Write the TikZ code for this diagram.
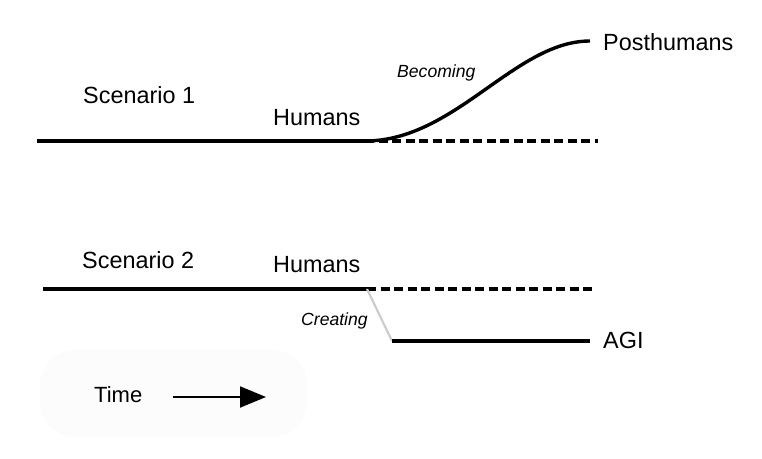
\documentclass[tikz,border=0pt]{standalone}
\usepackage{fontspec}
\setmainfont{Liberation Sans}
\usetikzlibrary{arrows.meta}
\begin{document}
\begin{tikzpicture}[x=1pt,y=-1pt,
  lbl/.style={inner sep=0pt,anchor=base west,font=\fontsize{23.4}{26}\selectfont},
  ital/.style={inner sep=0pt,anchor=base west,font=\fontsize{17.6}{20}\selectfont\itshape},
  solidline/.style={line width=3.4pt},
  dashline/.style={line width=3.4pt,dash pattern=on 9pt off 4.5pt},
  creatline/.style={line width=2.2pt,draw=black!20},
  arrowline/.style={line width=2pt,-{Triangle[length=26pt,width=21pt]}}]
\useasboundingbox (0,0) rectangle (762,458);
\fill[black!1.2, rounded corners=35pt] (40,350) rectangle (307,437);
% texts
\node[lbl] (s1) at (83,103) {Scenario 1};
\node[lbl] (h1) at (273,125) {Humans};
\node[ital] (bec) at (397,77) {Becoming};
\node[lbl] (post) at (603,50) {Posthumans};
\node[lbl] (s2) at (82,268) {Scenario 2};
\node[lbl] (h2) at (273,272) {Humans};
\node[ital] (cre) at (301,325) {Creating};
\node[lbl] (agi) at (603,348) {AGI};
\node[lbl, font=\fontsize{22}{24}\selectfont] (time) at (94,402) {Time};
% coordinates
\coordinate (a1) at (37,141);
\coordinate (b1) at (365,141);
\coordinate (c1) at (598,141);
\coordinate (p1) at (590,41);
\coordinate (a2) at (43,289);
\coordinate (b2) at (367,289);
\coordinate (c2) at (592,289);
\coordinate (d2) at (392,341);
\coordinate (e2) at (590,341);
\coordinate (t1) at (173,397);
\coordinate (t2) at (266,397);
% scenario 1
\draw[solidline] (a1) -- (b1);
\draw[dashline] (b1) -- (c1);
\draw[solidline] (b1) .. controls (455,141) and (515,41) .. (p1);
% scenario 2
\draw[solidline] (a2) -- (b2);
\draw[dashline] (b2) -- (c2);
\draw[creatline] (b2) -- (d2);
\draw[solidline] (d2) -- (e2);
% time
\draw[arrowline] (t1) -- (t2);
\end{tikzpicture}
\end{document}
